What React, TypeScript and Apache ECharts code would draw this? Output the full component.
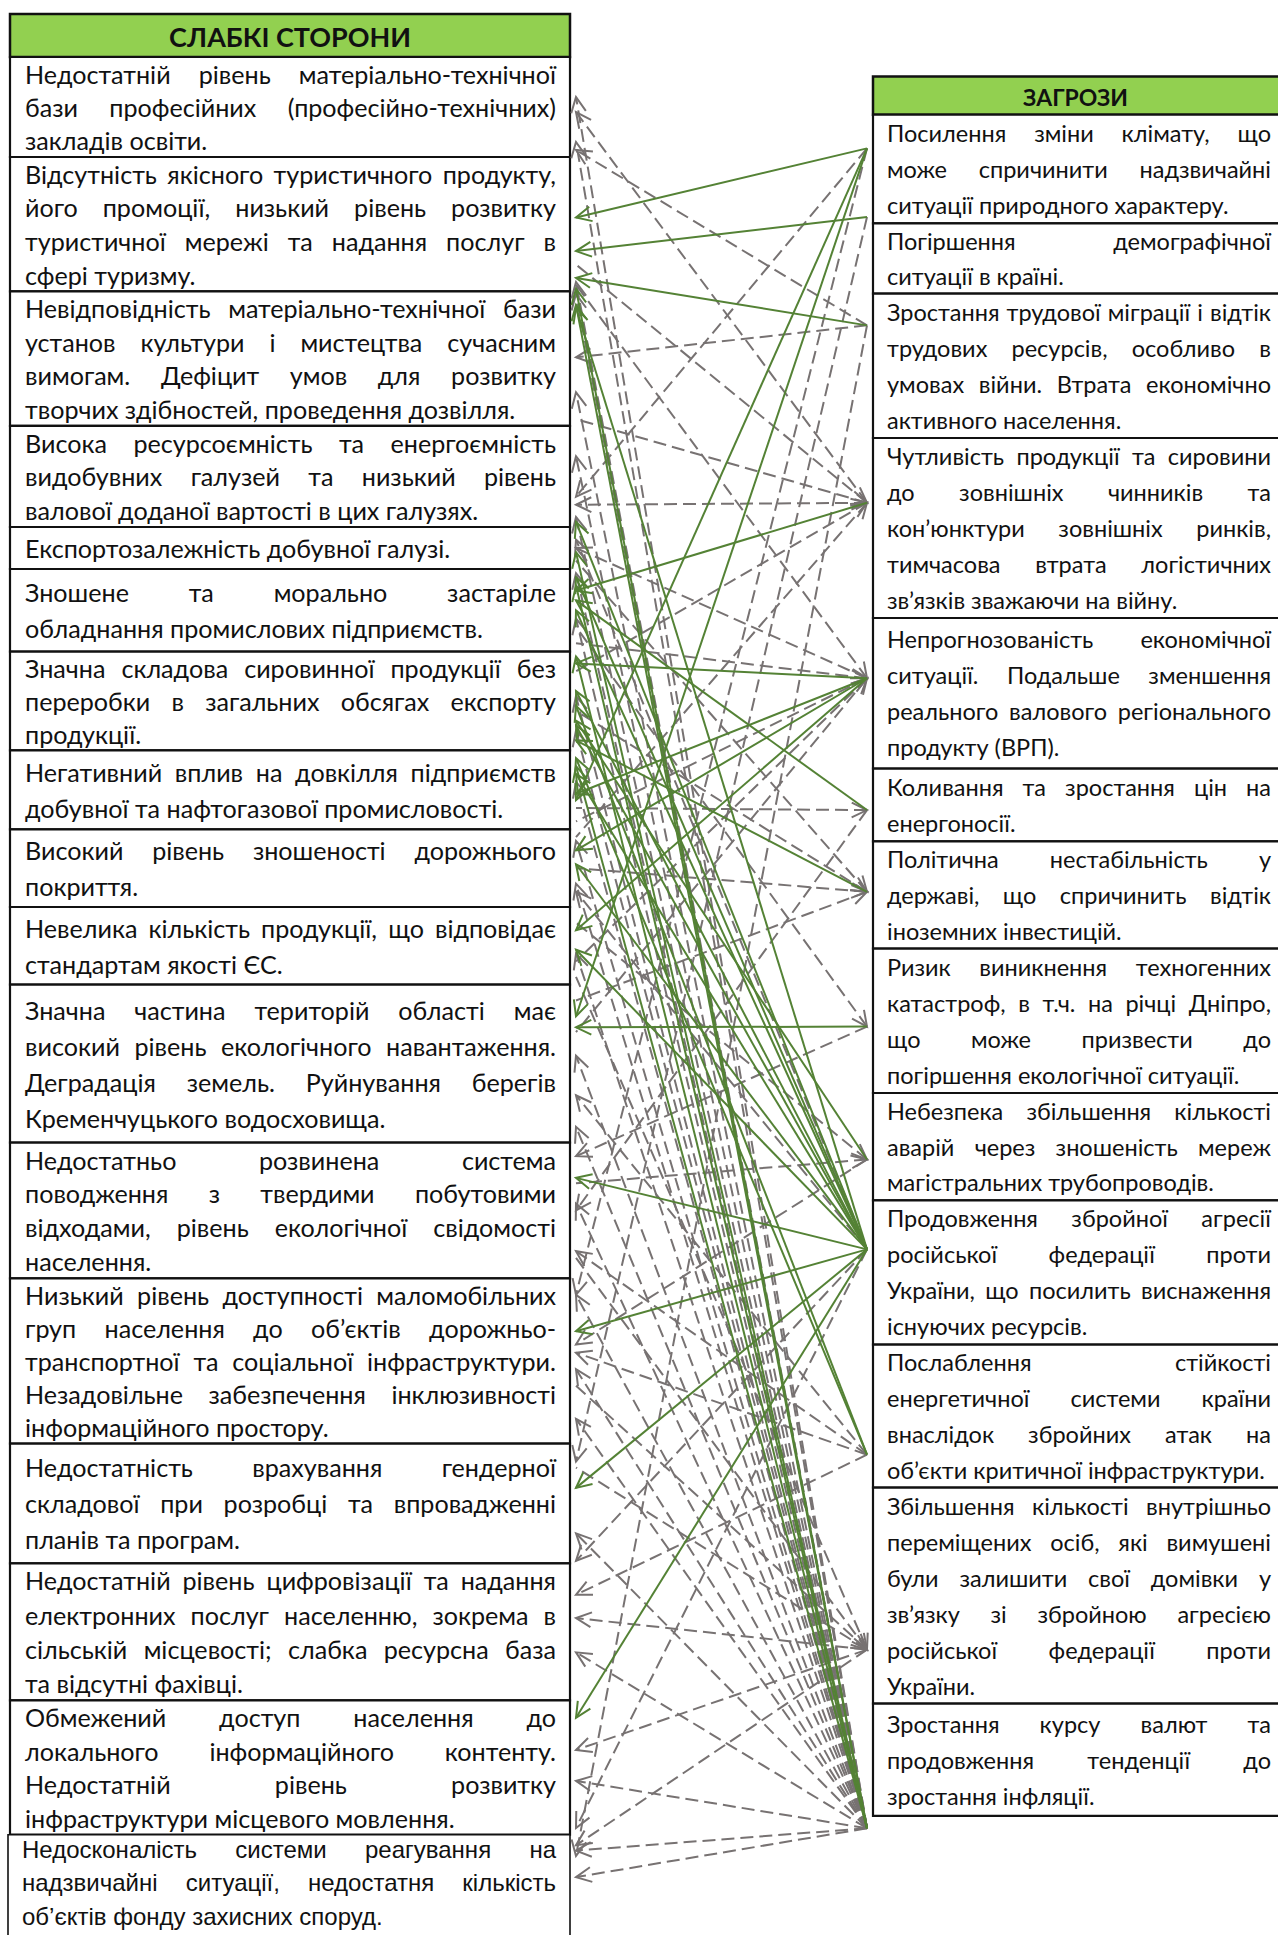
import React, { useEffect, useRef } from "react";
import * as echarts from "echarts";

// ---------------- DATA ----------------
const weaknessTitle = "СЛАБКІ СТОРОНИ";
const threatTitle = "ЗАГРОЗИ";

const weaknesses: string[][] = [
  ["Недостатній рівень матеріально-технічної", "бази професійних (професійно-технічних)", "закладів освіти."],
  ["Відсутність якісного туристичного продукту,", "його промоції, низький рівень розвитку", "туристичної мережі та надання послуг в", "сфері туризму."],
  ["Невідповідність матеріально-технічної бази", "установ культури і мистецтва сучасним", "вимогам. Дефіцит умов для розвитку", "творчих здібностей, проведення дозвілля."],
  ["Висока ресурсоємність та енергоємність", "видобувних галузей та низький рівень", "валової доданої вартості в цих галузях."],
  ["Експортозалежність добувної галузі."],
  ["Зношене та морально застаріле", "обладнання промислових підприємств."],
  ["Значна складова сировинної продукції без", "переробки в загальних обсягах експорту", "продукції."],
  ["Негативний вплив на довкілля підприємств", "добувної та нафтогазової промисловості."],
  ["Високий рівень зношеності дорожнього", "покриття."],
  ["Невелика кількість продукції, що відповідає", "стандартам якості ЄС."],
  ["Значна частина територій області має", "високий рівень екологічного навантаження.", "Деградація земель. Руйнування берегів", "Кременчуцького водосховища."],
  ["Недостатньо розвинена система", "поводження з твердими побутовими", "відходами, рівень екологічної свідомості", "населення."],
  ["Низький рівень доступності маломобільних", "груп населення до об’єктів дорожньо-", "транспортної та соціальної інфраструктури.", "Незадовільне забезпечення інклюзивності", "інформаційного простору."],
  ["Недостатність врахування гендерної", "складової при розробці та впровадженні", "планів та програм."],
  ["Недостатній рівень цифровізації та надання", "електронних послуг населенню, зокрема в", "сільській місцевості; слабка ресурсна база", "та відсутні фахівці."],
  ["Обмежений доступ населення до", "локального інформаційного контенту.", "Недостатній рівень розвитку", "інфраструктури місцевого мовлення."],
  ["Недосконалість системи реагування на", "надзвичайні ситуації, недостатня кількість", "об’єктів фонду захисних споруд."],
];

const threats: string[][] = [
  ["Посилення зміни клімату, що", "може спричинити надзвичайні", "ситуації природного характеру."],
  ["Погіршення демографічної", "ситуації в країні."],
  ["Зростання трудової міграції і відтік", "трудових ресурсів, особливо в", "умовах війни. Втрата економічно", "активного населення."],
  ["Чутливість продукції та сировини", "до зовнішніх чинників та", "кон’юнктури зовнішніх ринків,", "тимчасова втрата логістичних", "зв’язків зважаючи на війну."],
  ["Непрогнозованість економічної", "ситуації. Подальше зменшення", "реального валового регіонального", "продукту (ВРП)."],
  ["Коливання та зростання цін на", "енергоносії."],
  ["Політична нестабільність у", "державі, що спричинить відтік", "іноземних інвестицій."],
  ["Ризик виникнення техногенних", "катастроф, в т.ч. на річці Дніпро,", "що може призвести до", "погіршення екологічної ситуації."],
  ["Небезпека збільшення кількості", "аварій через зношеність мереж", "магістральних трубопроводів."],
  ["Продовження збройної агресії", "російської федерації проти", "України, що посилить виснаження", "існуючих ресурсів."],
  ["Послаблення стійкості", "енергетичної системи країни", "внаслідок збройних атак на", "об’єкти критичної інфраструктури."],
  ["Збільшення кількості внутрішньо", "переміщених осіб, які вимушені", "були залишити свої домівки у", "зв’язку зі збройною агресією", "російської федерації проти", "України."],
  ["Зростання курсу валют та", "продовження тенденції до", "зростання інфляції."],
];

// links: [threat index, weakness index, anchor within weakness row, kind (g = solid green, d = dashed grey), arrow side (L = at weakness, R = at threat)]
const links: [number, number, number, string, string][] = [
  // solid green
  [0, 1, 0.45, "g", "L"], [0, 7, 0.63, "g", "L"], [0, 10, 0.2, "g", "L"],
  [1, 1, 0.7, "g", "L"], [2, 1, 0.9, "g", "L"], [3, 5, 0.26, "g", "L"],
  [4, 6, 0.12, "g", "L"], [4, 7, 0.55, "g", "L"], [4, 8, 0.27, "g", "L"], [4, 9, 0.3, "g", "L"],
  [5, 5, 0.38, "g", "L"], [6, 6, 0.9, "g", "L"], [7, 10, 0.27, "g", "L"], [8, 6, 0.7, "g", "L"],
  [9, 11, 0.26, "g", "L"], [9, 12, 0.32, "g", "L"], [9, 13, 0.37, "g", "L"], [9, 15, 0.13, "g", "L"],
  [9, 2, 0.12, "g", "L"], [9, 5, 0.1, "g", "L"], [9, 5, 0.5, "g", "L"], [9, 6, 0.4, "g", "L"],
  [9, 6, 0.75, "g", "L"], [9, 7, 0.3, "g", "L"], [9, 8, 0.45, "g", "L"], [9, 9, 0.55, "g", "L"],
  [9, 3, 0.95, "g", "L"],
  [10, 6, 0.55, "g", "L"], [10, 7, 0.1, "g", "L"],
  [12, 1, 0.98, "g", "L"], [12, 5, 0.2, "g", "L"], [12, 6, 0.05, "g", "L"], [12, 2, 0.1, "g", "L"],
  [12, 4, 0.6, "g", "L"], [12, 7, 0.2, "g", "L"],
  // dashed grey
  [0, 3, 0.7, "d", "L"], [0, 12, 0.1, "d", "L"],
  [1, 13, 0.15, "d", "L"],
  [2, 2, 0.49, "d", "L"], [2, 0, 0.93, "d", "L"], [2, 16, 0.2, "d", "L"],
  [3, 3, 0.78, "d", "L"], [3, 0, 0.55, "d", "L"], [3, 2, 0.95, "d", "R"], [3, 6, 0.2, "d", "R"],
  [3, 8, 0.1, "d", "R"], [3, 1, 0.8, "d", "R"],
  [4, 4, 0.5, "d", "L"], [4, 1, 0.95, "d", "R"], [4, 5, 0.9, "d", "R"], [4, 7, 0.9, "d", "R"],
  [4, 9, 0.7, "d", "R"], [4, 10, 0.3, "d", "R"],
  [5, 7, 0.73, "d", "R"], [5, 11, 0.5, "d", "L"],
  [6, 8, 0.5, "d", "R"], [6, 4, 0.8, "d", "R"], [6, 6, 0.6, "d", "R"], [6, 10, 0.1, "d", "R"],
  [7, 5, 0.7, "d", "R"], [7, 11, 0.1, "d", "L"],
  [8, 9, 0.2, "d", "R"], [8, 11, 0.3, "d", "R"], [8, 12, 0.4, "d", "L"],
  [9, 13, 0.98, "d", "L"], [9, 15, 0.95, "d", "L"], [9, 4, 0.3, "d", "L"], [9, 8, 0.8, "d", "L"],
  [10, 14, 0.23, "d", "L"], [10, 10, 0.7, "d", "L"], [10, 11, 0.8, "d", "L"], [10, 12, 0.45, "d", "L"],
  [11, 14, 0.4, "d", "L"], [11, 15, 0.37, "d", "L"], [11, 16, 0.1, "d", "L"],
  [11, 9, 0.9, "d", "R"], [11, 11, 0.85, "d", "R"], [11, 12, 0.65, "d", "R"], [11, 13, 0.2, "d", "R"],
  [12, 14, 0.65, "d", "L"], [12, 16, 0.4, "d", "L"], [12, 16, 0.15, "d", "L"],
  [12, 0, 0.4, "d", "L"], [12, 0, 0.85, "d", "L"], [12, 1, 0.93, "d", "L"], [12, 2, 0.02, "d", "L"],
  [12, 2, 0.75, "d", "L"], [12, 3, 0.3, "d", "L"], [12, 3, 0.9, "d", "L"], [12, 5, 0.05, "d", "L"],
  [12, 5, 0.6, "d", "L"], [12, 6, 0.45, "d", "L"], [12, 6, 0.8, "d", "L"], [12, 7, 0.4, "d", "L"],
  [12, 8, 0.15, "d", "L"], [12, 8, 0.7, "d", "L"], [12, 9, 0.6, "d", "L"], [12, 10, 0.45, "d", "L"],
  [12, 10, 0.9, "d", "L"], [12, 11, 0.45, "d", "L"], [12, 12, 0.1, "d", "L"], [12, 12, 0.55, "d", "L"],
  [12, 12, 0.85, "d", "L"], [12, 13, 0.75, "d", "L"], [12, 15, 0.6, "d", "L"],
];

// ---------------- LAYOUT ----------------
const W = 1278;
const H = 1935;
const LEFT_X0 = 10;
const LEFT_X1 = 570;
const LEFT_HEAD_TOP = 14;
const LEFT_HEAD_BOTTOM = 57;
const leftRowH = [100, 134.4, 134.5, 101.1, 42, 82.6, 98.7, 79, 77.7, 77.7, 157.9, 135.7, 165.3, 119.7, 137, 134.4, 106];
const RIGHT_X0 = 873;
const RIGHT_X1 = 1284;
const RIGHT_HEAD_TOP = 76.5;
const RIGHT_HEAD_BOTTOM = 114.7;
const rightRowH = [108.6, 70.3, 144.4, 180, 150.6, 72.7, 107.4, 144.3, 107.3, 144.3, 143, 216, 112.3];
const hubFrac = [0.31, -0.09, 0.22, 0.36, 0.4, 0.57, 0.47, 0.54, 0.62, 0.34, 0.77, 0.75, 1.11];
const HUB_X = 867;
const TIP_X = 576;
const GREEN_FILL = "#92D050";
const LINE_GREEN = "#548235";
const LINE_GREY = "#777272";
const BODY_FAMILY = "Lato, 'Open Sans', 'Noto Sans', sans-serif";
const NARROW_FAMILY = "'Liberation Sans', Arial, sans-serif";
const NARROW_SIZE = 24;

export default function App() {
  const ref = useRef<HTMLDivElement>(null);

  useEffect(() => {
    if (!ref.current) return;
    const chart = echarts.init(ref.current, undefined, { renderer: "svg" });
    const ctx = document.createElement("canvas").getContext("2d") as CanvasRenderingContext2D;
    const measure = (t: string, size: number, fam: string, weight = "normal") => {
      ctx.font = `${weight} ${size}px ${fam}`;
      return ctx.measureText(t).width;
    };

    const leftTops: number[] = [];
    let acc = LEFT_HEAD_BOTTOM;
    leftRowH.forEach((h) => { leftTops.push(acc); acc += h; });
    const rightTops: number[] = [];
    acc = RIGHT_HEAD_BOTTOM;
    rightRowH.forEach((h) => { rightTops.push(acc); acc += h; });

    const LTX0 = 25, LTX1 = 556, RTX0 = 887, RTX1 = 1271;
    // fit body font size so that the longest line just fills its column
    const base = 22;
    let lratio = 0;
    weaknesses.slice(0, 16).forEach((p) => p.forEach((l) => { lratio = Math.max(lratio, measure(l, base, BODY_FAMILY) / (LTX1 - LTX0)); }));
    let rratio = 0;
    threats.forEach((p) => p.forEach((l) => { rratio = Math.max(rratio, measure(l, base, BODY_FAMILY) / (RTX1 - RTX0)); }));
    const rightSize = Math.min(25, (base / rratio) * 0.99);
    const leftSize = Math.min(rightSize + 1.6, (base / lratio) * 0.99);
    // last box: condensed face, emulated by a horizontal squeeze
    let nmax = 0;
    weaknesses[16].forEach((l) => { nmax = Math.max(nmax, measure(l, NARROW_SIZE, NARROW_FAMILY)); });
    const squeeze = Math.min(1, ((LTX1 - 22) * 0.985) / nmax);

    const elements: any[] = [];
    const rect = (x: number, y: number, w: number, h: number, fill: string, lw = 2) =>
      elements.push({ type: "rect", shape: { x, y, width: w, height: h }, style: { fill, stroke: "#111", lineWidth: lw }, z: 0 });

    const paragraph = (lines: string[], x0: number, x1: number, top: number, h: number, size: number, fam: string, maxLh = 36, sx = 1) => {
      const n = lines.length;
      const lh = Math.min(maxLh, h / n);
      const pad = (h - n * lh) / 2;
      lines.forEach((line, i) => {
        const y = top + pad + lh * (i + 0.5);
        const words = line.split(" ").filter(Boolean);
        const widths = words.map((w) => measure(w, size, fam) * sx);
        const sum = widths.reduce((a, b) => a + b, 0);
        let gap = measure(" ", size, fam) * sx;
        if (i < n - 1 && words.length > 1) gap = (x1 - x0 - sum) / (words.length - 1);
        let x = x0;
        words.forEach((w, k) => {
          elements.push({
            type: "text", x, y, z: 1, scaleX: sx, scaleY: 1,
            style: { text: w, fill: "#111", fontSize: size, fontFamily: fam, align: "left", textAlign: "left", verticalAlign: "middle", textVerticalAlign: "middle" },
          });
          x += widths[k] + gap;
        });
      });
    };

    // left column
    rect(LEFT_X0, LEFT_HEAD_TOP, LEFT_X1 - LEFT_X0, LEFT_HEAD_BOTTOM - LEFT_HEAD_TOP, GREEN_FILL, 2.5);
    const lhSize = 24 * 242 / measure(weaknessTitle, 24, BODY_FAMILY, "bold");
    elements.push({ type: "text", x: (LEFT_X0 + LEFT_X1) / 2, y: (LEFT_HEAD_TOP + LEFT_HEAD_BOTTOM) / 2 + 1, z: 1,
      style: { text: weaknessTitle, fill: "#111", fontSize: lhSize, fontWeight: "bold", fontFamily: BODY_FAMILY, align: "center", textAlign: "center", verticalAlign: "middle", textVerticalAlign: "middle" } });
    weaknesses.forEach((p, i) => {
      const last = i === weaknesses.length - 1;
      rect(last ? LEFT_X0 - 2 : LEFT_X0, leftTops[i], LEFT_X1 - LEFT_X0 + (last ? 2 : 0), leftRowH[i], "#fff", last ? 1.6 : 2.2);
      if (last) paragraph(p, 22, LTX1, leftTops[i] - 2, 100, NARROW_SIZE, NARROW_FAMILY, 33.5, squeeze);
      else paragraph(p, LTX0, LTX1, leftTops[i], leftRowH[i], leftSize, BODY_FAMILY);
    });

    // right column
    rect(RIGHT_X0, RIGHT_HEAD_TOP, RIGHT_X1 - RIGHT_X0, RIGHT_HEAD_BOTTOM - RIGHT_HEAD_TOP, GREEN_FILL, 2.5);
    const rhSize = 24 * 105 / measure(threatTitle, 24, BODY_FAMILY, "bold");
    elements.push({ type: "text", x: (RIGHT_X0 + W) / 2, y: (RIGHT_HEAD_TOP + RIGHT_HEAD_BOTTOM) / 2 + 1, z: 1,
      style: { text: threatTitle, fill: "#111", fontSize: rhSize, fontWeight: "bold", fontFamily: BODY_FAMILY, align: "center", textAlign: "center", verticalAlign: "middle", textVerticalAlign: "middle" } });
    threats.forEach((p, i) => {
      rect(RIGHT_X0, rightTops[i], RIGHT_X1 - RIGHT_X0, rightRowH[i], "#fff", 2.2);
      paragraph(p, RTX0, RTX1, rightTops[i], rightRowH[i], rightSize, BODY_FAMILY);
    });

    const linkData = [...links]
      .sort((p, q) => (p[3] === "g" ? 1 : 0) - (q[3] === "g" ? 1 : 0))
      .map(([t, w, f, kind, dir]) => [
        HUB_X,
        rightTops[t] + hubFrac[t] * rightRowH[t],
        TIP_X,
        leftTops[w] + f * leftRowH[w],
        kind === "g" ? 1 : 0,
        dir === "R" ? 1 : 0,
      ]);

    chart.setOption({
      animation: false,
      grid: { left: 0, right: 0, top: 0, bottom: 0, containLabel: false },
      xAxis: { type: "value", min: 0, max: W, show: false },
      yAxis: { type: "value", min: 0, max: H, inverse: true, show: false },
      graphic: { elements },
      series: [
        {
          type: "custom",
          clip: false,
          z: 5,
          encode: { x: [0, 2], y: [1, 3] },
          data: linkData,
          renderItem: (_params: any, api: any) => {
            const a = api.coord([api.value(0), api.value(1)]);
            const b = api.coord([api.value(2), api.value(3)]);
            const green = api.value(4) === 1;
            const toRight = api.value(5) === 1;
            const tip = toRight ? a : b;
            const tail = toRight ? b : a;
            const ang = Math.atan2(tail[1] - tip[1], tail[0] - tip[0]);
            const L = 17;
            const s = 0.45;
            const p1 = [tip[0] + L * Math.cos(ang + s), tip[1] + L * Math.sin(ang + s)];
            const p2 = [tip[0] + L * Math.cos(ang - s), tip[1] + L * Math.sin(ang - s)];
            const color = green ? LINE_GREEN : LINE_GREY;
            return {
              type: "group",
              children: [
                { type: "line", shape: { x1: a[0], y1: a[1], x2: b[0], y2: b[1] }, style: { stroke: color, lineWidth: 2, lineDash: green ? null : [13, 6], fill: null } },
                { type: "polyline", shape: { points: [p1, tip, p2] }, style: { stroke: color, lineWidth: 2, fill: null } },
              ],
            };
          },
        },
      ],
    });

    return () => chart.dispose();
  }, []);

  return <div ref={ref} style={{ position: "absolute", left: 0, top: 0, width: W, height: H, background: "#fff" }} />;
}
